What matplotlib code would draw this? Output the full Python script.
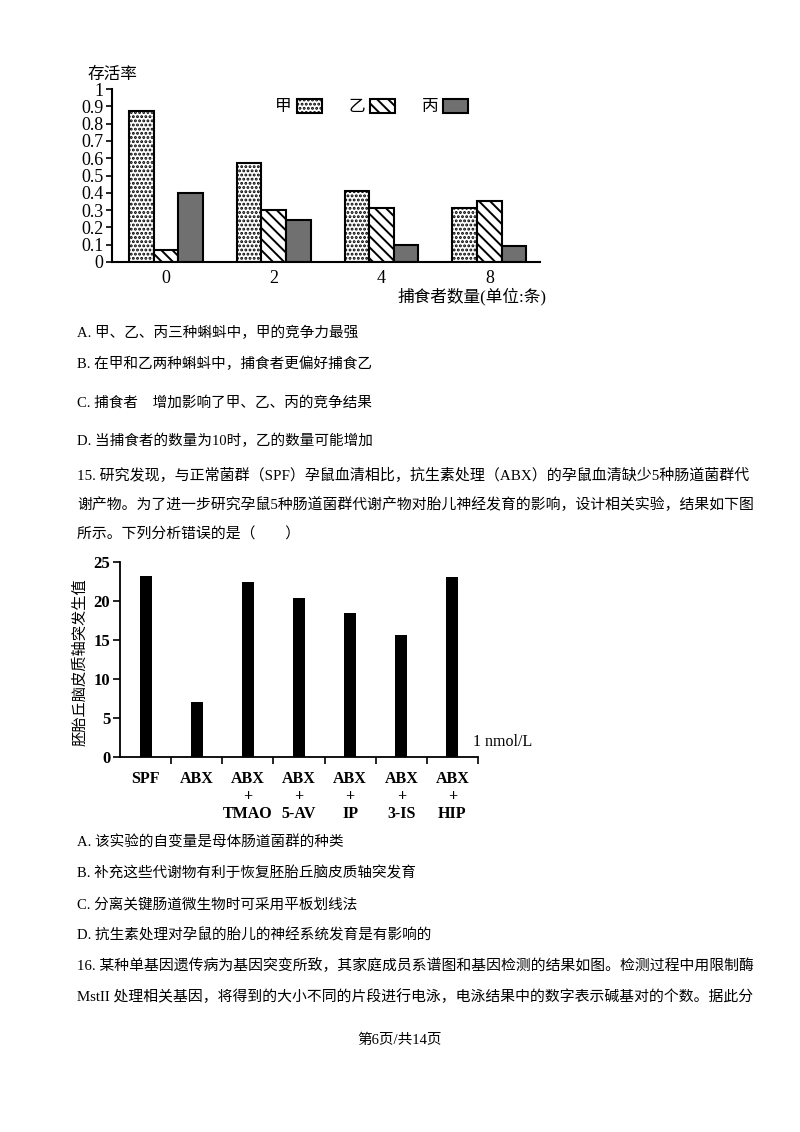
import matplotlib
matplotlib.use("Agg")
import matplotlib.pyplot as plt
import numpy as np

plt.rcParams['font.family'] = ['Liberation Serif', 'Noto Sans CJK SC', 'DejaVu Sans']
plt.rcParams['hatch.linewidth'] = 1.4

# ---- data: chart 1 (survival rate vs number of predators)
predators = ['0', '2', '4', '8']
species = ['甲', '乙', '丙']
jia = [0.87, 0.57, 0.41, 0.31]
yi = [0.07, 0.30, 0.31, 0.35]
bing = [0.40, 0.24, 0.10, 0.09]

# ---- data: chart 2 (axon growth value)
groups = ['SPF', 'ABX', 'ABX\n+\nTMAO', 'ABX\n+\n5-AV', 'ABX\n+\nIP', 'ABX\n+\n3-IS', 'ABX\n+\nHIP']
axon = [23.2, 7.0, 22.4, 20.4, 18.5, 15.7, 23.1]

W, H = 800, 1132
fig = plt.figure(figsize=(W / 100, H / 100), dpi=100)


def rect(l, t, r, b):
    return [l / W, 1 - b / H, (r - l) / W, (b - t) / H]


def ftext(x, y, s, **kw):
    kw.setdefault('va', 'center')
    kw.setdefault('fontsize', 10.5)
    fig.text(x / W, 1 - y / H, s, **kw)


# ---------------- chart 1 ----------------
ax1 = fig.add_axes(rect(112, 89, 540, 262))
x = np.arange(len(predators))
bw = 0.228
styles = [dict(facecolor='white', hatch='....'),
          dict(facecolor='white', hatch='\\\\\\'),
          dict(facecolor='#707070', hatch=None)]
for j, (vals, st) in enumerate(zip([jia, yi, bing], styles)):
    ax1.bar(x + (j - 1) * bw, vals, bw, edgecolor='black', linewidth=1.5,
            label=species[j], **st)
ax1.set_xlim(-0.5, 3.47)
ax1.set_ylim(0, 1)
ax1.set_yticks(np.arange(0, 1.01, 0.1))
ax1.set_yticklabels(['0'] + ['%.1f' % v for v in np.arange(0.1, 0.95, 0.1)] + ['1'])
ax1.set_xticks(x)
ax1.set_xticklabels(predators)
ax1.tick_params(axis='y', direction='out', length=4, width=1.2, labelsize=13, pad=2)
ax1.tick_params(axis='x', length=0, labelsize=13, pad=6)
for s in ['top', 'right']:
    ax1.spines[s].set_visible(False)
for s in ['left', 'bottom']:
    ax1.spines[s].set_linewidth(1.5)
ax1.legend(loc='center left', bbox_to_anchor=(275 / W, 1 - 107 / H),
           bbox_transform=fig.transFigure, ncol=3, frameon=False,
           markerfirst=False, fontsize=12, handlelength=1.5, handleheight=0.9,
           handletextpad=0.3, columnspacing=1.6, borderpad=0, borderaxespad=0)
ftext(88, 75, '存活率', fontsize=12)
ftext(397, 297, '捕食者数量(单位:条)', fontsize=12)

# ---------------- text block 1 ----------------
ftext(77, 333, 'A. 甲、乙、丙三种蝌蚪中，甲的竞争力最强')
ftext(77, 364, 'B. 在甲和乙两种蝌蚪中，捕食者更偏好捕食乙')
ftext(77, 403, 'C. 捕食者　增加影响了甲、乙、丙的竞争结果')
ftext(77, 441, 'D. 当捕食者的数量为10时，乙的数量可能增加')
ftext(77, 475, '15. 研究发现，与正常菌群（SPF）孕鼠血清相比，抗生素处理（ABX）的孕鼠血清缺少5种肠道菌群代',
      fontsize=10.8)
ftext(77, 505, '谢产物。为了进一步研究孕鼠5种肠道菌群代谢产物对胎儿神经发育的影响，设计相关实验，结果如下图',
      fontsize=10.7)
ftext(77, 535, '所示。下列分析错误的是（　　）', fontsize=10.7)

# ---------------- chart 2 ----------------
ax2 = fig.add_axes(rect(120, 562, 478, 757))
xi = np.arange(len(groups))
ax2.bar(xi, axon, 0.235, color='black')
ax2.set_xlim(-0.5, 6.5)
ax2.set_ylim(0, 25)
ax2.set_yticks(np.arange(0, 26, 5))
ax2.set_xticks(xi)
ax2.set_xticklabels(groups, fontweight='bold', fontsize=11.5, linespacing=1.15)
ax2.set_xticks(xi + 0.5, minor=True)
ax2.tick_params(axis='x', which='major', length=0, pad=10)
ax2.tick_params(axis='x', which='minor', direction='out', length=5, width=1.2)
ax2.tick_params(axis='y', direction='out', length=5, width=1.2, labelsize=12, pad=2)
for lab in ax2.get_yticklabels():
    lab.set_fontweight('bold')
for s in ['top', 'right']:
    ax2.spines[s].set_visible(False)
for s in ['left', 'bottom']:
    ax2.spines[s].set_linewidth(1.3)
ax2.set_ylabel('胚胎丘脑皮质轴突发生值', fontsize=11, va='center')
ax2.yaxis.set_label_coords(-0.11, 0.487)
ftext(473, 742, '1 nmol/L', fontsize=11.5)

# ---------------- text block 2 ----------------
ftext(77, 843, 'A. 该实验的自变量是母体肠道菌群的种类')
ftext(77, 873, 'B. 补充这些代谢物有利于恢复胚胎丘脑皮质轴突发育')
ftext(77, 904, 'C. 分离关键肠道微生物时可采用平板划线法')
ftext(77, 935, 'D. 抗生素处理对孕鼠的胎儿的神经系统发育是有影响的')
ftext(77, 966, '16. 某种单基因遗传病为基因突变所致，其家庭成员系谱图和基因检测的结果如图。检测过程中用限制酶',
      fontsize=10.7)
ftext(77, 997, 'MstII 处理相关基因，将得到的大小不同的片段进行电泳，电泳结果中的数字表示碱基对的个数。据此分',
      fontsize=10.7)
ftext(400, 1040, '第6页/共14页', ha='center', fontsize=10.5)

fig.savefig('out.png', dpi=100)
